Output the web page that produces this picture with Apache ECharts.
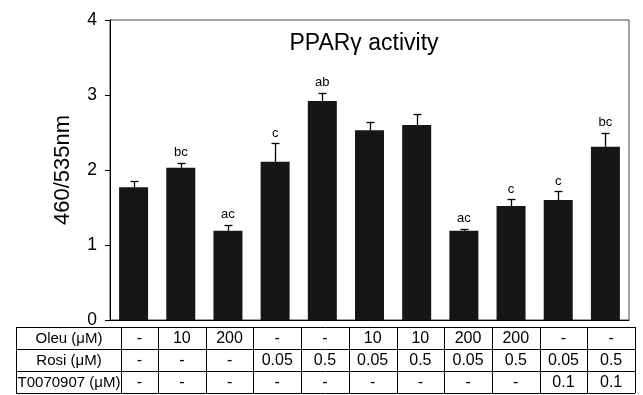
<!DOCTYPE html>
<html>
<head>
<meta charset="utf-8">
<script src="https://cdn.jsdelivr.net/npm/echarts@6/dist/echarts.min.js"></script>
<style>
html,body{margin:0;padding:0;background:#fff;}
#chart{width:643px;height:395px;}
</style>
</head>
<body>
<div id="chart"></div>
<script>
// ---- data ----
const groups = ['1','2','3','4','5','6','7','8','9','10','11'];
const means  = [1.77, 2.03, 1.19, 2.11, 2.92, 2.53, 2.60, 1.19, 1.52, 1.60, 2.31];
const errors = [0.09, 0.07, 0.08, 0.25, 0.11, 0.11, 0.14, 0.03, 0.09, 0.12, 0.19];
const letters = ['', 'bc', 'ac', 'c', 'ab', '', '', 'ac', 'c', 'c', 'bc'];
const yTicks = [0, 1, 2, 3, 4];
const rowLabels = ['Oleu (μM)', 'Rosi (μM)', 'T0070907 (μM)'];
const oleu = ['-','10','200','-','-','10','10','200','200','-','-'];
const rosi = ['-','-','-','0.05','0.5','0.05','0.5','0.05','0.5','0.05','0.5'];
const t007 = ['-','-','-','-','-','-','-','-','-','0.1','0.1'];
const tableRows = [oleu, rosi, t007];

const FONT = '"Liberation Sans", Arial, Helvetica, sans-serif';
const chart = echarts.init(document.getElementById('chart'), null, {renderer: 'canvas'});

// ---- table layout (drawn as graphics) ----
const tTop = 327, rowH = 22, tLeft = 16, labelRight = 121, firstColRight = 158, colW = 47.7;
const colEdges = [labelRight];
for (let i = 0; i < groups.length; i++) colEdges.push(firstColRight + i * colW);
const tRight = colEdges[colEdges.length - 1];
const tBottom = tTop + rowH * tableRows.length;
const graphics = [];
function hline(y, x1, x2){ graphics.push({type:'line', silent:true, shape:{x1:x1, y1:y+0.5, x2:x2, y2:y+0.5}, style:{stroke:'#000', lineWidth:1}}); }
function vline(x, y1, y2){ graphics.push({type:'line', silent:true, shape:{x1:Math.round(x)+0.5, y1:y1, x2:Math.round(x)+0.5, y2:y2}, style:{stroke:'#000', lineWidth:1}}); }
for (let r = 0; r <= tableRows.length; r++) hline(tTop + r * rowH, tLeft, tRight);
vline(tLeft, tTop, tBottom);
colEdges.forEach(x => vline(x, tTop, tBottom));
rowLabels.forEach((lab, r) => {
  graphics.push({type:'text', silent:true, x:(tLeft + labelRight) / 2 + 0.5, y: tTop + r * rowH + rowH / 2 + 1,
    style:{text: lab, fill:'#000', font: '15px ' + FONT, textAlign:'center', textVerticalAlign:'middle'}});
});
tableRows.forEach((row, r) => {
  row.forEach((v, c) => {
    graphics.push({type:'text', silent:true, x:(colEdges[c] + colEdges[c+1]) / 2, y: tTop + r * rowH + rowH / 2 + 1,
      style:{text: v, fill:'#000', font: '16px ' + FONT, textAlign:'center', textVerticalAlign:'middle'}});
  });
});

const option = {
  animation: false,
  backgroundColor: '#fff',
  title: {
    text: 'PPARγ activity',
    left: 364, top: 32, textAlign: 'center', padding: 0,
    textStyle: {fontFamily: FONT, fontSize: 23, fontWeight: 'normal', color: '#000'}
  },
  grid: {left: 110, right: 14, top: 20, bottom: 75, show: true, borderColor: '#444', borderWidth: 1, backgroundColor: 'transparent'},
  xAxis: {
    type: 'category', data: groups,
    axisLine: {lineStyle: {color: '#000', width: 1}},
    axisTick: {show: false}, axisLabel: {show: false}, splitLine: {show: false}
  },
  yAxis: {
    type: 'value', min: yTicks[0], max: yTicks[yTicks.length - 1], interval: 1,
    name: '460/535nm', nameLocation: 'middle', nameGap: 36,
    nameTextStyle: {fontFamily: FONT, fontSize: 22, color: '#000'},
    axisLine: {show: true, lineStyle: {color: '#000', width: 1}},
    axisTick: {show: true, length: 5, lineStyle: {color: '#000'}},
    axisLabel: {fontFamily: FONT, fontSize: 17.5, color: '#000', margin: 13},
    splitLine: {show: false}
  },
  series: [
    {
      type: 'bar', data: means, barWidth: 29,
      itemStyle: {color: '#161616'}
    },
    {
      type: 'custom',
      data: means.map((m, i) => [i, m, errors[i], letters[i]]),
      renderItem: function (params, api) {
        const i = api.value(0), m = api.value(1), e = api.value(2);
        const base = api.coord([i, m]);
        const top = api.coord([i, m + e]);
        const x = Math.round(base[0]) + 0.5;
        const ty = Math.round(top[1]) + 0.5;
        const cap = 4;
        const children = [
          {type:'line', shape:{x1:x, y1:base[1], x2:x, y2:ty}, style:{stroke:'#000', lineWidth:1.3}},
          {type:'line', shape:{x1:x-cap, y1:ty, x2:x+cap, y2:ty}, style:{stroke:'#000', lineWidth:1.3}}
        ];
        const lab = letters[params.dataIndex];
        if (lab) {
          children.push({type:'text', x: base[0], y: top[1] - 10,
            style:{text: lab, fill:'#000', font: '13px ' + FONT, textAlign:'center', textVerticalAlign:'middle'}});
        }
        return {type:'group', children: children};
      },
      z: 5
    }
  ],
  graphic: graphics
};
chart.setOption(option);
</script>
</body>
</html>
